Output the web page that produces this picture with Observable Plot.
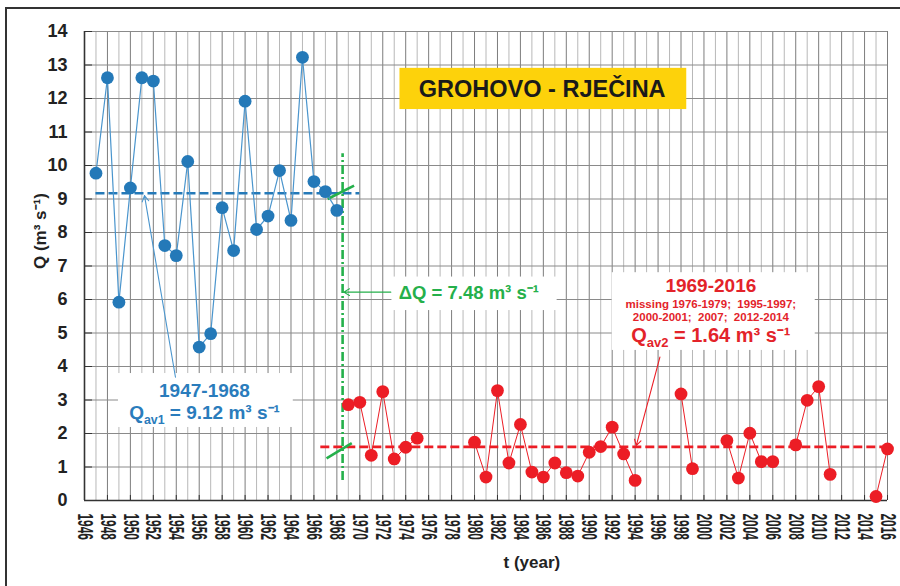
<!DOCTYPE html>
<html><head><meta charset="utf-8">
<script src="https://cdn.jsdelivr.net/npm/d3@7"></script>
<script src="https://cdn.jsdelivr.net/npm/@observablehq/plot@0.6"></script>
<style>
body{margin:0;background:#fff;}
#wrap{position:relative;width:900px;height:586px;overflow:hidden;background:#fff;}
#frame{position:absolute;left:5px;top:7px;right:-10px;bottom:-10px;border-left:2px solid #333;border-top:2px solid #333;pointer-events:none;}
</style></head><body><div id="wrap"><div id="chart"></div><div id="frame"></div></div>
<script>
// ---- data ----
const yearsBlue = [1947,1948,1949,1950,1951,1952,1953,1954,1955,1956,1957,1958,1959,1960,1961,1962,1963,1964,1965,1966,1967,1968];
const qBlue = [9.77,12.62,5.92,9.33,12.62,12.52,7.61,7.31,10.12,4.58,4.98,8.74,7.46,11.92,8.09,8.49,9.85,8.36,13.23,9.52,9.22,8.66];
const yearsRed = [1969,1970,1971,1972,1973,1974,1975,1976,1977,1978,1979,1980,1981,1982,1983,1984,1985,1986,1987,1988,1989,1990,1991,1992,1993,1994,1995,1996,1997,1998,1999,2000,2001,2002,2003,2004,2005,2006,2007,2008,2009,2010,2011,2012,2013,2014,2015,2016];
const qRed = [2.86,2.93,1.35,3.25,1.24,1.59,1.86,NaN,NaN,NaN,NaN,1.74,0.70,3.28,1.12,2.27,0.85,0.70,1.12,0.83,0.73,1.44,1.61,2.19,1.39,0.60,NaN,NaN,NaN,3.18,0.95,NaN,NaN,1.79,0.67,2.01,1.16,1.16,NaN,1.66,2.99,3.40,0.78,NaN,NaN,NaN,0.12,1.54];
const meanBlue = [{q: 9.17, from: 1947, to: 1970}];
const meanRed = [{q: 1.60, from: 1966.6, to: 2016}];
const breakLine = [{x: 1968.5, from: 0.6, to: 10.35}];
const breakMarks = [{x1:1967.2,y1:9.0,x2:1969.5,y2:9.4},{x1:1967.1,y1:1.26,x2:1969.3,y2:1.71}];
const xTicks = [1946,1948,1950,1952,1954,1956,1958,1960,1962,1964,1966,1968,1970,1972,1974,1976,1978,1980,1982,1984,1986,1988,1990,1992,1994,1996,1998,2000,2002,2004,2006,2008,2010,2012,2014,2016];
const yTicks = [0,1,2,3,4,5,6,7,8,9,10,11,12,13,14];
const gridYears = d3.range(1946, 2017);

// annotations
const titleText = "GROHOVO - RJEČINA";
const titleBox = [{x1:1973.5,x2:1998.5,y1:11.67,y2:12.9}];
const whiteBoxes = [
  {x1:1948.96,x2:1964.2,y1:2.18,y2:3.79},
  {x1:1972.8,x2:1987.2,y1:5.67,y2:6.67},
  {x1:1992.0,x2:2009.7,y1:4.48,y2:6.8}
];
const blueLabels = [{x:1956.46,y:3.28,t:"1947-1968"},{x:1956.46,y:2.6,t:"Q_{av1} = 9.12 m³ s⁻¹"}];
const greenLabels = [{x:1979.5,y:6.18,t:"ΔQ = 7.48 m³ s⁻¹"}];
const redTitle = [{x:2000.6,y:6.4,t:"1969-2016"}];
const redSmall = [{x:2000.6,y:5.86,t:"missing 1976-1979;  1995-1997;"},{x:2000.6,y:5.47,t:"2000-2001;  2007;  2012-2014"}];
const redMean = [{x:2000.6,y:4.93,t:"Q_{av2} = 1.64 m³ s⁻¹"}];
const arrowsBlue = [{x1:1953.93,y1:3.68,x2:1951.23,y2:9.1}];
const arrowsGreen = [{x1:1972.7,y1:6.22,x2:1968.6,y2:6.22}];
const arrowsRed = [{x1:1996.16,y1:4.28,x2:1994.1,y2:1.64}];

const blue = yearsBlue.map((y,i)=>({year:y,q:qBlue[i]}));
const red = yearsRed.map((y,i)=>({year:y,q:qRed[i]}));

const BLUE="#2479b8", BLUEL="#4a95cd", RED="#ec1d25", GREEN="#25b04b", TBLUE="#2a7cbc", TRED="#e3232a";

const plot = Plot.plot({
  width: 900, height: 586,
  marginLeft: 84, marginRight: 13, marginTop: 31, marginBottom: 86,
  style: {fontFamily: "'Liberation Sans', Arial, sans-serif", fontWeight: "bold", background: "transparent", color: "#222"},
  x: {domain: [1946, 2016], axis: null},
  y: {domain: [0, 14]},
  marks: [
    Plot.ruleX(gridYears.filter(d => d % 2 === 1), {stroke: "#b8b8b8", strokeWidth: 1}),
    Plot.ruleX(gridYears.filter(d => d % 2 === 0), {stroke: "#7d7d7d", strokeWidth: 1}),
    Plot.ruleY(yTicks, {stroke: "#8a8a8a", strokeWidth: 1}),
    Plot.rect(whiteBoxes, {x1:"x1",x2:"x2",y1:"y1",y2:"y2",fill:"white"}),
    Plot.rect(titleBox, {x1:"x1",x2:"x2",y1:"y1",y2:"y2",fill:"#fdd20b"}),
    Plot.ruleY(yTicks, {x1: 1946, x2: 1946.7, stroke: "#333", strokeWidth: 1}),
    Plot.ruleX(xTicks, {y1: 0, y2: 0.15, stroke: "#333", strokeWidth: 1}),
    Plot.ruleY([0], {stroke: "#333", strokeWidth: 1.6}),
    Plot.ruleX([1946], {stroke: "#333", strokeWidth: 1.6}),
    Plot.axisY(yTicks, {anchor: "left", tickSize: 0, tickPadding: 17, fontSize: 18, fontWeight: "bold", label: null}),
    Plot.text(xTicks, {x: d => d, text: d => String(d), frameAnchor: "bottom", dy: 13, rotate: 90, textAnchor: "start", lineAnchor: "middle", fontSize: 16.5, fontWeight: "bold", fill: "#222"}),
    Plot.ruleY(meanBlue, {y: "q", x1: "from", x2: "to", stroke: BLUE, strokeWidth: 2.6, strokeDasharray: "9,4"}),
    Plot.ruleY(meanRed, {y: "q", x1: "from", x2: "to", stroke: RED, strokeWidth: 2.6, strokeDasharray: "9,4"}),
    Plot.ruleX(breakLine, {x: "x", y1: "from", y2: "to", stroke: GREEN, strokeWidth: 2.6, strokeDasharray: "9,3,2,3"}),
    Plot.link(breakMarks, {x1:"x1",y1:"y1",x2:"x2",y2:"y2", stroke: GREEN, strokeWidth: 2.6}),
    Plot.line(blue, {x: "year", y: "q", stroke: BLUEL, strokeWidth: 1.2}),
    Plot.line(red, {x: "year", y: "q", stroke: RED, strokeWidth: 1}),
    Plot.dot(blue, {x: "year", y: "q", r: 6.4, fill: BLUE}),
    Plot.dot(red, {x: "year", y: "q", r: 6.4, fill: RED}),
    Plot.arrow(arrowsBlue, {x1:"x1",y1:"y1",x2:"x2",y2:"y2", stroke: BLUEL, strokeWidth: 1.1, headLength: 9}),
    Plot.arrow(arrowsGreen, {x1:"x1",y1:"y1",x2:"x2",y2:"y2", stroke: GREEN, strokeWidth: 1.1, headLength: 9}),
    Plot.arrow(arrowsRed, {x1:"x1",y1:"y1",x2:"x2",y2:"y2", stroke: RED, strokeWidth: 1.1, headLength: 9}),
    Plot.text([titleText], {x: 1985.9, y: 12.27, text: d => d, fontSize: 23.5, fontWeight: "bold", fill: "#1a1a1a"}),
    Plot.text(blueLabels, {x: "x", y: "y", text: "t", fontSize: 19, fontWeight: "bold", fill: TBLUE}),
    Plot.text(greenLabels, {x: "x", y: "y", text: "t", fontSize: 18.5, fontWeight: "bold", fill: GREEN}),
    Plot.text(redTitle, {x: "x", y: "y", text: "t", fontSize: 19, fontWeight: "bold", fill: TRED}),
    Plot.text(redSmall, {x: "x", y: "y", text: "t", fontSize: 11.5, fontWeight: "bold", fill: TRED}),
    Plot.text(redMean, {x: "x", y: "y", text: "t", fontSize: 20, fontWeight: "bold", fill: TRED}),
    Plot.text(["Q (m³ s⁻¹)"], {frameAnchor: "left", dx: -44, dy: 3, rotate: -90, text: d => d, fontSize: 17, fontWeight: "bold", fill: "#222"}),
    Plot.text(["t (year)"], {x: 1985, frameAnchor: "bottom", dy: 67, text: d => d, fontSize: 17, fontWeight: "bold", fill: "#222"})
  ]
});

// subscripts
d3.select(plot).selectAll("text").each(function() {
  const s = this.textContent;
  if (!s.includes("_{")) return;
  const parts = s.split(/(_\{[^}]*\})/).filter(p => p);
  this.textContent = "";
  let prevSub = false;
  for (const p of parts) {
    const t = document.createElementNS("http://www.w3.org/2000/svg", "tspan");
    if (p.startsWith("_{")) {
      t.textContent = p.slice(2, -1);
      t.setAttribute("font-size", "65%");
      t.setAttribute("dy", "0.4em");
      prevSub = true;
    } else {
      t.textContent = p;
      if (prevSub) t.setAttribute("dy", "-0.26em");
      prevSub = false;
    }
    this.appendChild(t);
  }
});
// narrow rotated year labels
const yearSet = new Set(xTicks.map(String));
d3.select(plot).selectAll("text").each(function() {
  if (!yearSet.has(this.textContent.trim())) return;
  const tr = this.getAttribute("transform") || "";
  this.setAttribute("transform", tr + " scale(0.72,1.3)");
});

document.getElementById("chart").appendChild(plot);
</script></body></html>
